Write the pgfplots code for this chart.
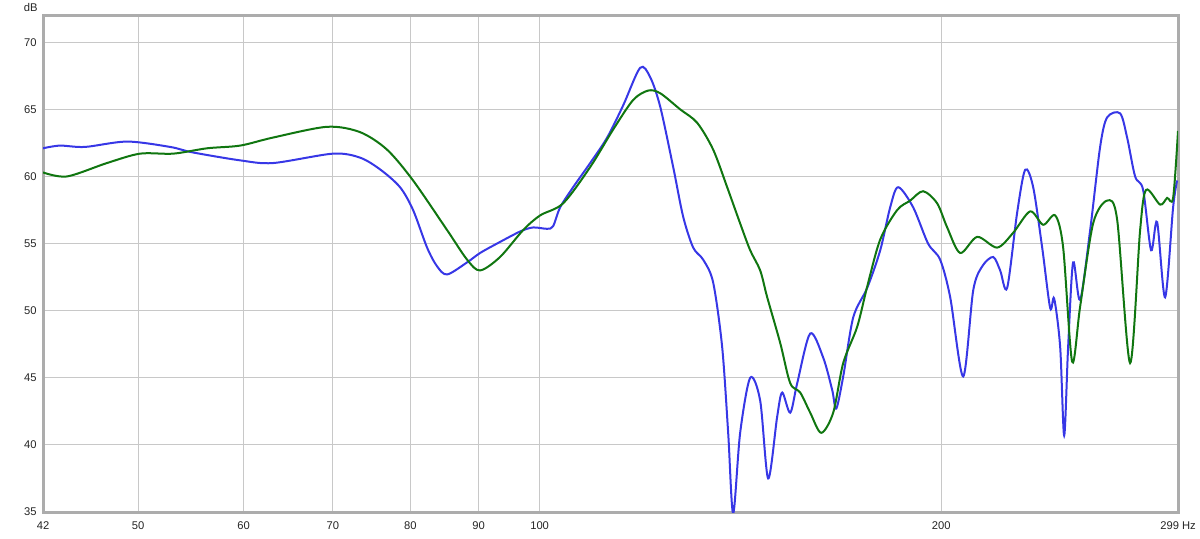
\documentclass[border=0pt]{standalone}
\usepackage{pgfplots}
\pgfplotsset{compat=1.18}
\usepackage{fontspec}
\setmainfont{Liberation Sans}
\definecolor{cblue}{RGB}{55,55,230}
\definecolor{cgreen}{RGB}{16,118,16}
\definecolor{gridc}{RGB}{200,200,200}
\definecolor{framec}{RGB}{172,172,172}
\begin{document}
\begin{tikzpicture}
\useasboundingbox (0,0) rectangle (600pt,269pt);
\begin{axis}[
 at={(21.5pt,13pt)}, anchor=south west,
 scale only axis, width=567.5pt, height=248.5pt,
 xmode=log, xmin=42.44, xmax=301, ymin=35, ymax=72.03,
 xtick={42.44,50,60,70,80,90,100,200,301},
 xticklabels={42,50,60,70,80,90,100,200,299 Hz},
 ytick={35,40,45,50,55,60,65,70},
 xminorticks=false,
 grid=major,
 major grid style={gridc, line width=0.5pt},
 axis line style={framec, line width=1.5pt},
 major tick length=0pt,
 tick style={draw=none},
 ticklabel style={font=\fontsize{5.6}{6.5}\selectfont, text=black!85},
 xticklabel style={anchor=center, yshift=-7pt, inner sep=0pt},
 yticklabel style={anchor=east, inner sep=0pt, xshift=-3pt},
 /pgf/number format/assume math mode=true,
 clip=true,
]
\addplot[cblue, line width=1pt, smooth, tension=0.5] coordinates {
(42.44,62.1) (43.70,62.3) (45.63,62.2) (49.06,62.6) (52.85,62.2) (54.90,61.8)
(59.64,61.2) (63.13,61.0) (70.02,61.7) (73.36,61.4) (76.0,60.5) (78.60,59.2)
(80.38,57.5) (82.35,54.7) (83.79,53.3) (85.25,52.7) (88.24,53.6) (90.24,54.3)
(92.91,55.0) (96.69,55.9) (98.89,56.2) (101.31,56.1) (102.36,56.3) (103.61,57.7)
(105.96,59.2) (109.12,61.0) (112.37,62.9) (115.52,65.3) (118.96,68.1) (121.03,67.4)
(123.14,65.2) (125.93,60.7) (128.12,57.0) (130.35,54.7) (132.62,53.8) (134.93,52.1)
(137.04,47.3) (138.47,40.9) (139.67,34.9) (141.37,40.9) (143.83,45.0) (146.34,43.3)
(148.37,37.5) (150.69,42.1) (152.00,43.9) (154.12,42.4) (156.00,44.6) (159.54,48.3)
(163.16,46.5) (165.71,44.1) (166.86,42.7) (168.89,45.1) (171.83,49.5) (176.03,51.7)
(180.03,54.5) (183.15,57.7) (185.70,59.2) (190.57,57.7) (195.56,55.0) (199.65,53.8)
(203.13,51.0) (207.74,45.1) (211.36,51.5) (214.66,53.3) (218.77,54.0) (221.43,53.0)
(224.12,51.7) (228.02,57.3) (231.20,60.5) (234.42,59.2) (238.08,54.7) (241.39,50.2)
(243.06,50.9) (245.59,47.3) (247.29,40.7) (248.99,47.3) (251.15,53.6) (254.20,50.8)
(258.63,56.0) (263.13,62.2) (266.33,64.4) (272.37,64.7) (275.68,62.9) (279.51,60.0)
(283.40,59.0) (287.34,54.5) (290.33,56.6) (294.37,51.0) (298.46,57.7) (300.53,59.7)
};
\addplot[cgreen, line width=1pt, smooth, tension=0.5] coordinates {
(42.44,60.3) (44.23,60.0) (47.39,61.0) (50.17,61.7) (53.13,61.7) (56.34,62.1)
(59.64,62.3) (63.13,62.9) (69.30,63.7) (73.36,63.3) (76.86,62.0) (80.38,59.7)
(85.25,56.0) (88.24,53.8) (90.24,53.0) (93.40,54.0) (97.19,56.0) (100.09,57.1)
(104.15,58.0) (109.12,60.7) (113.54,63.5) (117.53,65.7) (120.61,66.4) (123.14,66.2)
(127.46,65.0) (131.25,64.0) (134.93,62.0) (138.23,59.2) (141.37,56.5) (143.83,54.5)
(146.34,53.0) (148.12,51.0) (151.48,47.6) (154.12,44.6) (156.81,43.9) (159.54,42.4)
(162.60,40.9) (166.00,42.4) (168.89,46.1) (173.02,48.8) (176.03,51.8) (180.03,55.3)
(185.38,57.5) (189.59,58.2) (193.88,58.9) (198.62,58.0) (202.08,56.2) (206.67,54.3)
(212.82,55.5) (220.28,54.7) (226.45,55.8) (233.20,57.4) (238.49,56.4) (243.48,57.1)
(246.86,54.7) (250.72,46.2) (254.20,50.3) (259.97,56.5) (266.33,58.2) (270.96,56.8)
(277.11,46.1) (281.94,56.0) (284.87,59.0) (291.84,57.9) (295.39,58.4) (298.46,58.4)
(301.0,63.4)
};
\end{axis}
\node[anchor=south east, inner sep=0pt, font=\fontsize{5.6}{6.5}\selectfont, text=black!85] at (19pt,263pt) {dB};
\end{tikzpicture}
\end{document}
